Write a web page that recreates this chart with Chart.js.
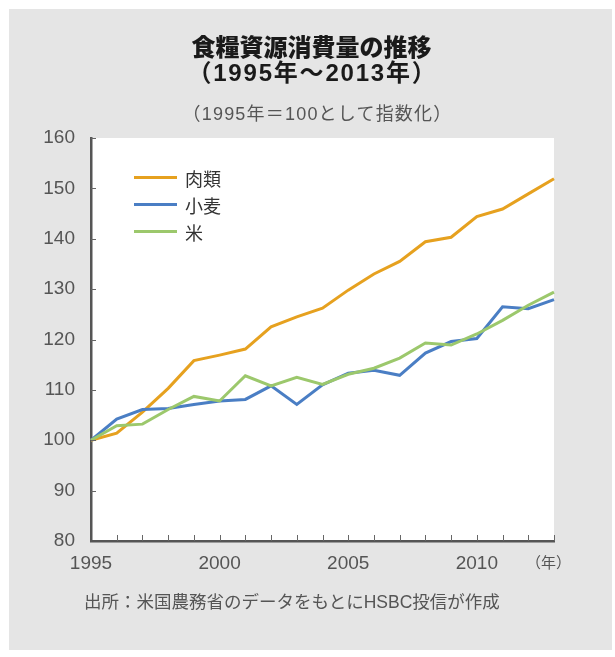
<!DOCTYPE html>
<html lang="ja">
<head>
<meta charset="utf-8">
<script src="https://cdn.jsdelivr.net/npm/chart.js@4/dist/chart.umd.min.js"></script>
<style>
  html,body{margin:0;padding:0;background:#fff;}
  body{width:615px;height:657px;position:relative;overflow:hidden;font-family:'Liberation Sans','Noto Sans CJK JP',sans-serif;}
  #panel{position:absolute;left:9px;top:9px;width:603px;height:641px;background:#e5e5e5;}
  #wrap{position:absolute;left:0;top:0;width:615px;height:657px;}
  .t{position:absolute;left:0;width:615px;text-align:center;white-space:nowrap;box-sizing:border-box;}
  #title1{top:32px;font-size:24px;font-weight:900;color:#1a1a1a;line-height:28px;padding-left:8px;font-family:'Noto Sans CJK JP',sans-serif;}
  #title2{top:59px;font-size:24px;font-weight:700;color:#1a1a1a;line-height:28px;padding-left:10px;letter-spacing:1.8px;}
  #sub{top:103px;font-size:18px;color:#555;line-height:22px;padding-left:20px;letter-spacing:1.2px;}
  #unit{position:absolute;left:526px;top:553px;font-size:15px;color:#555;line-height:20px;}
  #src{position:absolute;left:84px;top:590px;font-size:17.5px;color:#555;line-height:24px;white-space:nowrap;}
  #legend{position:absolute;left:134px;top:164px;z-index:2;font-family:'Noto Sans CJK JP',sans-serif;}
  .lg{display:flex;align-items:center;height:27px;font-size:18px;color:#333;}
  .lg span.sw{display:inline-block;width:43px;height:3px;margin-right:8px;}
</style>
</head>
<body>
<div id="panel"></div>
<div id="wrap"><canvas id="chart"></canvas></div>
<div class="t" id="title1">食糧資源消費量の推移</div>
<div class="t" id="title2">（1995年～2013年）</div>
<div class="t" id="sub">（1995年＝100として指数化）</div>
<div id="legend"></div>
<div id="unit">（年）</div>
<div id="src">出所：米国農務省のデータをもとにHSBC投信が作成</div>
<script>
// ── data ────────────────────────────────────────────────────
const years=[1995,1996,1997,1998,1999,2000,2001,2002,2003,2004,2005,2006,2007,2008,2009,2010,2011,2012,2013];
const meat =[100,101.4,105.6,110.3,115.8,116.9,118.1,122.5,124.5,126.2,129.8,133.0,135.5,139.4,140.3,144.4,145.9,148.9,151.9];
const wheat=[100,104.2,106.1,106.3,107.1,107.8,108.1,110.8,107.1,111.0,113.3,113.9,112.9,117.3,119.6,120.2,126.5,126.1,127.9];
const rice =[100,102.9,103.2,106.1,108.7,107.8,112.8,110.8,112.5,111.1,113.1,114.3,116.3,119.3,118.9,121.1,123.8,126.8,129.4];
const seriesNames=['肉類','小麦','米'];
const seriesColors=['#e6a11f','#4a7ec4','#9cc86c'];
const yTicks=[80,90,100,110,120,130,140,150,160];
const xLabelYears=[1995,2000,2005,2010];

const numFont="'Liberation Sans',Arial,sans-serif";

// legend (html)
document.getElementById('legend').innerHTML=seriesNames.map((n,i)=>
  `<div class="lg"><span class="sw" style="background:${seriesColors[i]}"></span>${n}</div>`).join('');

// white plot bg + inward tick marks
const plotDeco={
  id:'plotDeco',
  beforeDraw(c){
    const a=c.chartArea, ctx=c.ctx;
    ctx.save();ctx.fillStyle='#fff';
    ctx.fillRect(a.left,a.top,a.right-a.left,a.bottom-a.top);
    ctx.restore();
  },
  afterDraw(c){
    const a=c.chartArea, ctx=c.ctx, xs=c.scales.x, ys=c.scales.y;
    ctx.save();ctx.strokeStyle='#666';ctx.lineWidth=1;
    ctx.beginPath();
    xs.ticks.forEach(t=>{
      if(t.value===years[0]) return;
      const x=Math.round(xs.getPixelForValue(t.value))+0.5;
      ctx.moveTo(x,a.bottom);ctx.lineTo(x,a.bottom-6);
    });
    ys.ticks.forEach(t=>{
      if(t.value===yTicks[0]) return;
      const y=Math.round(ys.getPixelForValue(t.value))+0.5;
      ctx.moveTo(a.left,y);ctx.lineTo(a.left+5,y);
    });
    ctx.stroke();ctx.restore();
  }
};

const mk=(data,i)=>({label:seriesNames[i],data:years.map((y,k)=>({x:y,y:data[k]})),
  borderColor:seriesColors[i],backgroundColor:seriesColors[i],borderWidth:3,
  pointRadius:0,tension:0,fill:false,order:2-i,clip:false});

new Chart(document.getElementById('chart'),{
  type:'line',
  data:{datasets:[mk(meat,0),mk(wheat,1),mk(rice,2)]},
  plugins:[plotDeco],
  options:{
    responsive:true,maintainAspectRatio:false,animation:false,
    layout:{padding:{top:138,right:61,left:0,bottom:0}},
    plugins:{legend:{display:false},tooltip:{enabled:false}},
    scales:{
      x:{type:'linear',min:years[0],max:years[years.length-1],
        afterFit:s=>{s.height=116;},
        afterBuildTicks:s=>{s.ticks=years.map(v=>({value:v}));},
        ticks:{autoSkip:false,maxRotation:0,padding:11,color:'#555',
          font:{family:numFont,size:19},
          callback:v=>xLabelYears.includes(v)?String(v):''},
        grid:{display:false,drawTicks:false},
        border:{display:true,color:'#555',width:2.5}},
      y:{min:yTicks[0],max:yTicks[yTicks.length-1],
        afterFit:s=>{s.width=91;},
        afterBuildTicks:s=>{s.ticks=yTicks.map(v=>({value:v}));},
        ticks:{padding:16,color:'#555',font:{family:numFont,size:19}},
        grid:{display:false,drawTicks:false},
        border:{display:true,color:'#555',width:2.5}}
    }
  }
});
</script>
</body>
</html>
